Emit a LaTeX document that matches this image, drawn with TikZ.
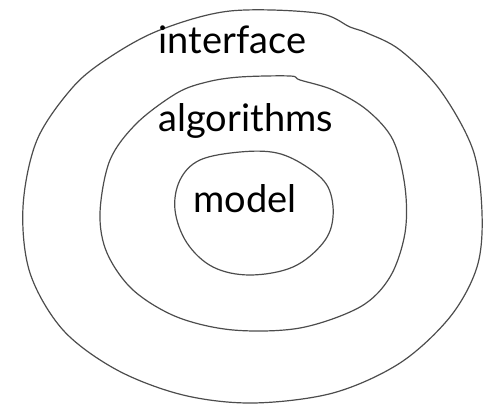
\documentclass[tikz,border=0pt]{standalone}
\usepackage{fontspec}
\setmainfont{Lato}
\begin{document}
\begin{tikzpicture}[x=0.5pt, y=-0.5pt, line width=0.6pt]
  \tikzset{ring/.style={draw=black!70, line join=round}, lbl/.style={anchor=base west, inner sep=0pt, font=\fontsize{19}{22}\selectfont}}
  \useasboundingbox (0,0) rectangle (486,410);
  % outer loop
  \draw[ring] plot[smooth cycle, tension=0.55] coordinates {(230,11) (317,13) (350,27) (367,33) (400,50) (440,90) (473,150) (482,213) (477,267) (450,317) (400,363) (333,393) (253,403) (183,395) (117,370) (63,330) (30,273) (23,207) (37,140) (73,87) (110,57) (160,30)};
  % middle loop
  \draw[ring] plot[smooth cycle, tension=0.55] coordinates {(240,77) (290,76) (300,80) (333,90) (367,110) (393,140) (405,187) (405,233) (390,277) (360,307) (300,328) (233,330) (177,317) (133,290) (107,253) (100,213) (110,160) (137,123) (177,93) (207,82)};
  % inner loop
  \draw[ring] plot[smooth cycle, tension=0.6] coordinates {(240,152) (277,153) (307,167) (328,187) (333,217) (323,243) (293,267) (250,275) (213,267) (187,243) (175,210) (180,180) (200,160)};
  \node[lbl] (interface) at (158,54) {interface};
  \node[lbl] (algorithms) at (158,132) {algorithms};
  \node[lbl] (model) at (193,213) {model};
\end{tikzpicture}
\end{document}
